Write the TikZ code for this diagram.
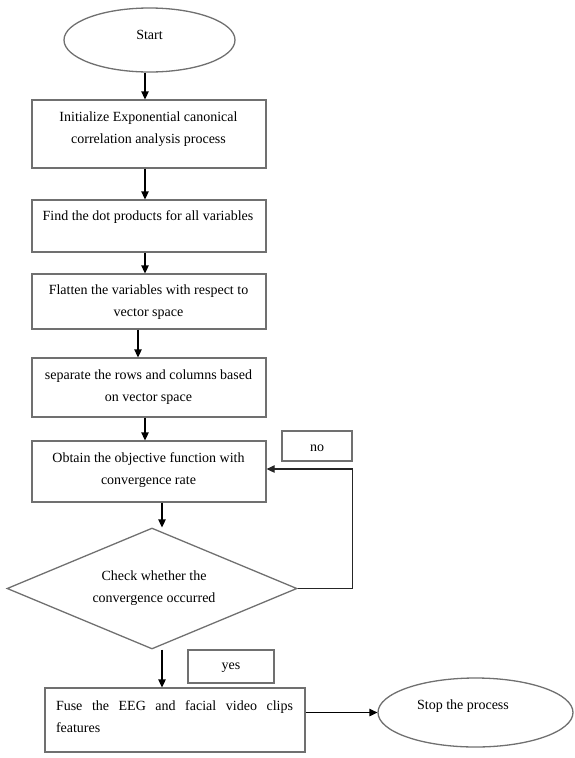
\documentclass[tikz,border=0pt]{standalone}
\usepackage{fontspec}
\setmainfont{Liberation Serif}
\usetikzlibrary{shapes.geometric,arrows.meta}
\definecolor{boxgray}{HTML}{707070}
\tikzset{
  shp/.style={draw=boxgray, line width=1.3pt, inner sep=0pt},
  boxr/.style={shp, rectangle, minimum width=#1},
  oval/.style={shp, ellipse},
  lbl/.style={align=center, inner sep=0pt, font=\fontsize{14}{22}\selectfont},
  arr/.style={draw=black, line width=1.3pt, -{Triangle[length=8pt,width=7.5pt]}},
  fb/.style={draw=black!85, line width=1.3pt, -{Triangle[length=8pt,width=7.5pt]}}
}
\begin{document}
\begin{tikzpicture}[x=1pt,y=-1pt]
\useasboundingbox (0,0) rectangle (575,758);
% shapes
\node[oval, minimum width=171pt, minimum height=64pt] (start) at (149.5,40) {};
\node[boxr=234pt, minimum height=68pt] (b1) at (149,134) {};
\node[boxr=234pt, minimum height=52pt] (b2) at (149,226) {};
\node[boxr=234pt, minimum height=55pt] (b3) at (149,301.5) {};
\node[boxr=234pt, minimum height=59pt] (b4) at (149,387.5) {};
\node[boxr=234pt, minimum height=61pt] (b5) at (149,471.5) {};
\node[boxr=70pt, minimum height=30pt] (no) at (317,446) {};
\node[shp, diamond, minimum width=290pt, minimum height=121pt, aspect=2.4] (dia) at (152,588.5) {};
\node[boxr=86pt, minimum height=33pt] (yes) at (231,666.5) {};
\node[boxr=260pt, minimum height=64pt] (b6) at (175,720) {};
\node[oval, minimum width=195pt, minimum height=69pt] (stop) at (475.5,712.5) {};
% texts
\node[lbl] (tstart) at (149.5,35) {Start};
\node[lbl] (t1) at (148.5,129.5) {Initialize Exponential canonical\\correlation analysis process};
\node[lbl] (t2) at (148,217) {Find the dot products for all variables};
\node[lbl] (t3) at (148.5,302.5) {Flatten the variables with respect to\\vector space};
\node[lbl] (t4) at (148.5,387) {separate the rows and columns based\\on vector space};
\node[lbl] (t5) at (148.5,470) {Obtain the objective function with\\convergence rate};
\node[lbl] (tno) at (317,448) {no};
\node[lbl] (tdia) at (154,588) {Check whether the\\convergence occurred};
\node[lbl] (tyes) at (231,668) {yes};
\node[lbl, align=justify, text width=237pt] (t6) at (174.5,716.5) {Fuse the EEG and facial video clips\linebreak features};
\node[lbl] (tstop) at (463,706) {Stop the process};
% connectors
\draw[arr] ([xshift=-4.5pt]start.south) -- ([xshift=-4pt]b1.north);
\draw[arr] ([xshift=-4pt]b1.south) -- ([xshift=-4pt]b2.north);
\draw[arr] ([xshift=-4pt]b2.south) -- ([xshift=-4pt]b3.north);
\draw[arr] ([xshift=-11pt]b3.south) -- ([xshift=-11pt]b4.north);
\draw[arr] ([xshift=-4pt]b4.south) -- ([xshift=-4pt]b5.north);
\draw[arr] ([xshift=13pt]b5.south) -- ([xshift=13pt]b5.south |- dia.north);
\draw[arr] ([xshift=10pt]dia.south) -- ([xshift=10pt]dia.south |- b6.north);
\draw[arr] (b6.east |- stop.west) -- (stop.west);
\draw[fb] (dia.east) -- (dia.east -| no.east) |- ([yshift=2.5pt]b5.east);
\end{tikzpicture}
\end{document}
